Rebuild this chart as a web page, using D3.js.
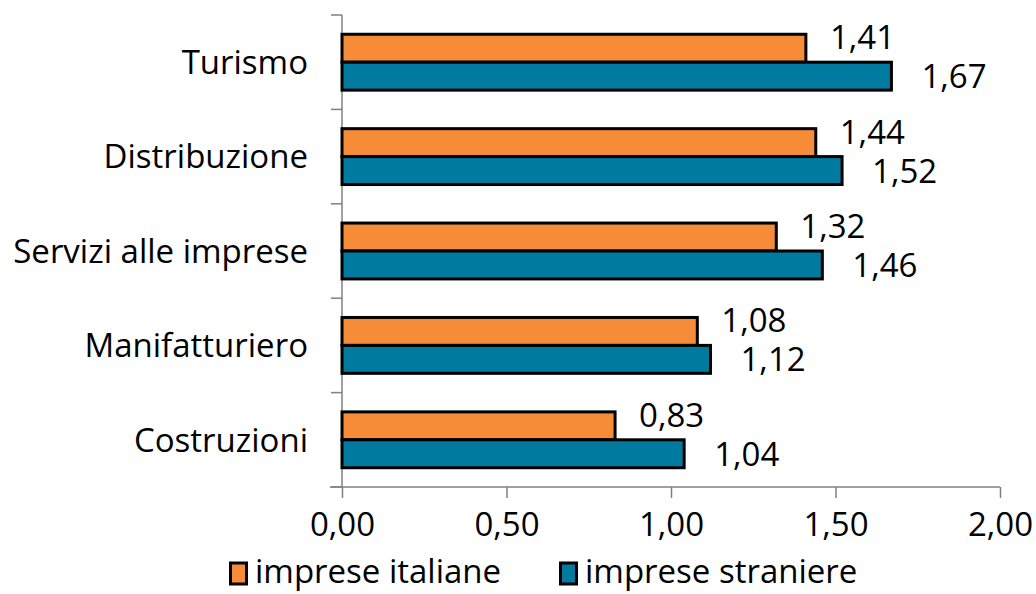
<!DOCTYPE html>
<html>
<head>
<meta charset="utf-8">
<script src="https://cdn.jsdelivr.net/npm/d3@7"></script>
<style>
  body { margin: 0; background: #fff; }
  svg text { font-family: "Open Sans", "Noto Sans", sans-serif; fill: #000; }
</style>
</head>
<body>
<svg id="plot" width="1036" height="594"></svg>
<script>
// data
var categories = ['Turismo', 'Distribuzione', 'Servizi alle imprese', 'Manifatturiero', 'Costruzioni'];
var italiane = [1.41, 1.44, 1.32, 1.08, 0.83];
var straniere = [1.67, 1.52, 1.46, 1.12, 1.04];
var seriesNames = ['imprese italiane', 'imprese straniere'];
var seriesColors = ['#f68b38', '#007a9e'];
var xTicks = [0, 0.5, 1, 1.5, 2];

var padLeft = 342, padRight = 1000, padTop = 15, padBottom = 487;
var fontSize = '33px';

var svg = d3.select('#plot');
var fmt = function (v) { return d3.format('.2f')(v).replace('.', ','); };

var xScale = d3.scaleLinear().domain([0, 2]).range([padLeft, padRight]);
var yScale = d3.scaleBand().domain(categories).range([padTop, padBottom]);
var inner = d3.scaleBand().domain([0, 1]).range([0, yScale.bandwidth()]).paddingOuter(0.69);

// rows: one entry per bar
var rows = [];
categories.forEach(function (c, i) {
  rows.push({ cat: c, s: 0, v: italiane[i] });
  rows.push({ cat: c, s: 1, v: straniere[i] });
});

// x axis
var xAxis = d3.axisBottom(xScale).tickValues(xTicks).tickFormat(fmt).tickSize(11).tickSizeOuter(0);
var gx = svg.append('g')
  .attr('transform', 'translate(0,' + padBottom + ')')
  .call(xAxis);
gx.select('.domain').remove();
gx.append('line').attr('x1', padLeft - 12).attr('x2', padRight).attr('stroke', '#808080').attr('stroke-width', 1.5);
gx.selectAll('.tick line').attr('stroke', '#808080').attr('stroke-width', 1.5);
gx.selectAll('.tick text').attr('y', 26).attr('dy', '0.71em').style('font-size', fontSize);

// y axis: line, ticks between categories, labels
var gy = svg.append('g');
gy.append('line').attr('x1', padLeft).attr('x2', padLeft).attr('y1', padTop).attr('y2', padBottom)
  .attr('stroke', '#808080').attr('stroke-width', 1.5);
var bounds = categories.map(function (c) { return yScale(c); }).concat([padBottom]);
gy.selectAll('.ytick').data(bounds).enter().append('line')
  .attr('class', 'ytick')
  .attr('x1', padLeft - 11).attr('x2', padLeft)
  .attr('y1', function (d) { return d; }).attr('y2', function (d) { return d; })
  .attr('stroke', '#808080').attr('stroke-width', 1.5);
gy.selectAll('.ylabel').data(categories).enter().append('text')
  .attr('class', 'ylabel')
  .attr('x', padLeft - 34)
  .attr('y', function (d) { return yScale(d) + yScale.bandwidth() / 2; })
  .attr('dy', '0.36em')
  .attr('text-anchor', 'end')
  .style('font-size', fontSize)
  .text(function (d) { return d; });

// bars
svg.selectAll('rect.bar').data(rows).enter().append('rect')
  .attr('class', 'bar')
  .attr('x', xScale(0))
  .attr('y', function (d) { return yScale(d.cat) + inner(d.s); })
  .attr('width', function (d) { return xScale(d.v) - xScale(0); })
  .attr('height', inner.bandwidth())
  .attr('fill', function (d) { return seriesColors[d.s]; })
  .attr('stroke', '#000')
  .attr('stroke-width', 3);

// value labels
svg.selectAll('text.val').data(rows).enter().append('text')
  .attr('class', 'val')
  .attr('x', function (d) { return xScale(d.v) + (d.s === 0 ? 24 : 30); })
  .attr('y', function (d) {
    var y0 = yScale(d.cat) + inner(d.s);
    return d.s === 0 ? y0 + 15 : y0 + inner.bandwidth() - 2;
  })
  .style('font-size', fontSize)
  .text(function (d) { return fmt(d.v); });

// legend
var legendX = [229, 559];
var leg = svg.selectAll('g.leg').data(seriesNames).enter().append('g')
  .attr('class', 'leg')
  .attr('transform', function (d, i) { return 'translate(' + legendX[i] + ',560)'; });
leg.append('rect')
  .attr('x', 1.5).attr('y', 3).attr('width', 16).attr('height', 21)
  .attr('fill', function (d, i) { return seriesColors[i]; })
  .attr('stroke', '#000').attr('stroke-width', 3);
leg.append('text')
  .attr('x', 26).attr('y', 12).attr('dy', '0.34em')
  .style('font-size', fontSize)
  .text(function (d) { return d; });
</script>
</body>
</html>
